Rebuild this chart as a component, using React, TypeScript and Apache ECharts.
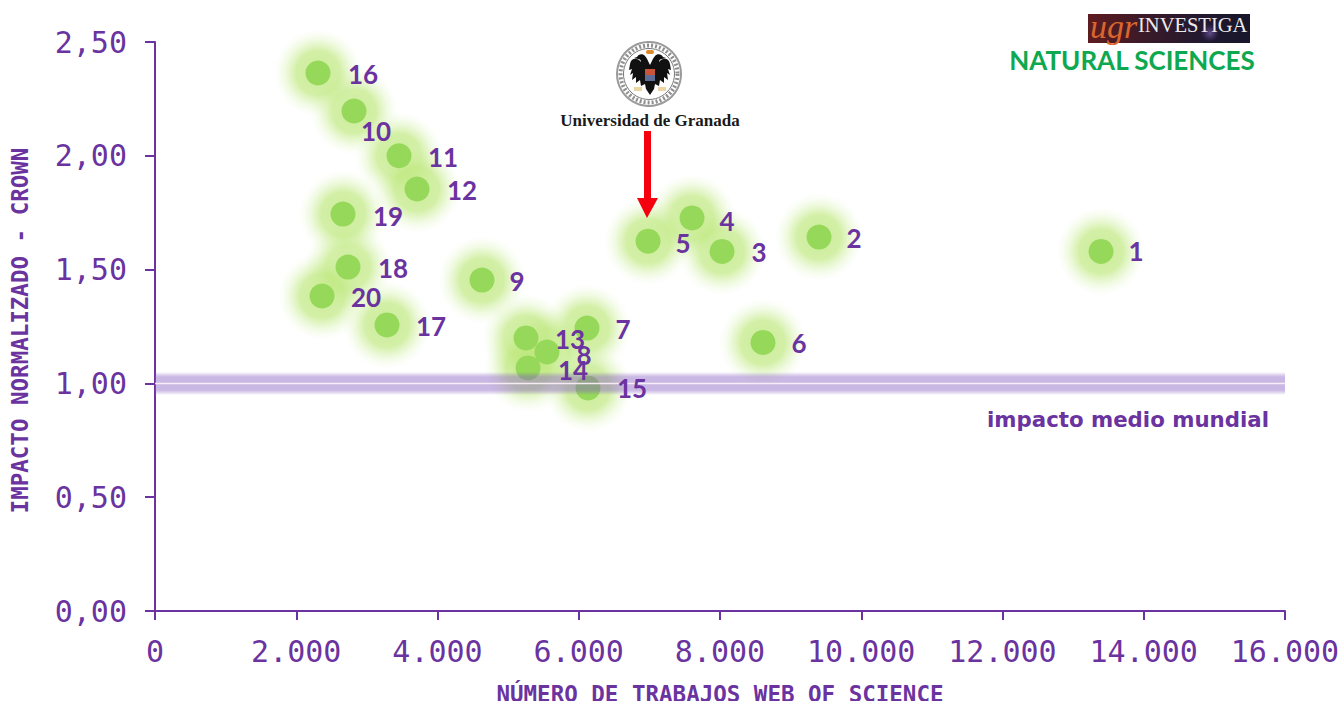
import React, { useEffect, useRef } from "react";
import * as echarts from "echarts";

const ids = ["1","2","3","4","5","6","7","8","9","10","11","12","13","14","15","16","17","18","19","20"];
const trabajos = [13395,9402,8029,7604,6981,8609,6117,5550,4630,2818,3455,3710,5253,5282,6131,2308,3285,2733,2662,2365];
const crown = [1.58,1.643,1.58,1.727,1.625,1.18,1.243,1.138,1.454,2.197,2.0,1.854,1.2,1.068,0.98,2.364,1.257,1.511,1.744,1.384];
const xTickLabels = ["0","2.000","4.000","6.000","8.000","10.000","12.000","14.000","16.000"];
const yTickLabels = ["0,00","0,50","1,00","1,50","2,00","2,50"];
const referenceX = [0,16000];
const referenceY = [1,1];

const PURPLE = "#6A33A0";
const MONO = '"DejaVu Sans Mono", monospace';

// hand placement of each number label relative to its point: [dx, dy]
const labelOffset: Record<string, number[]> = {
  "1":[35,0],"2":[35,1],"3":[37,1],"4":[35,3],"5":[35,2],"6":[36,1],"7":[36,1],"8":[37,3],"9":[35,1],
  "10":[22,20],"11":[44,1],"12":[45,1],"13":[44,1],"14":[45,2],"15":[44,0],"16":[45,1],"17":[44,1],"18":[45,1],"19":[45,2],"20":[44,1],
};

const EAGLE =
  "M0,-8 C-2,-12 -3,-15 -5,-17 C-7,-20 -12,-19 -13,-16 L-16,-15 L-12,-14 C-10,-14 -9,-13 -9,-11 C-13,-16 -19,-15 -20,-9 L-21,-3 L-18,-4 L-20,2 L-17,0 L-18,7 L-14,4 L-14,10 L-10,7 L-9,13 L-5,11 L-4,16 L0,22 L4,16 L5,11 L9,13 L10,7 L14,10 L14,4 L18,7 L17,0 L20,2 L18,-4 L21,-3 L20,-9 C19,-15 13,-16 9,-11 C9,-13 10,-14 12,-14 L16,-15 L13,-16 C12,-19 7,-20 5,-17 C3,-15 2,-12 0,-8 Z";
echarts.graphic.registerShape("ugrEagle", (echarts.graphic as any).extendPath(EAGLE, {}));

export default function App() {
  const ref = useRef<HTMLDivElement>(null);
  useEffect(() => {
    document.body.style.margin = "0";
    const chart = echarts.init(ref.current!, undefined, { renderer: "svg" });
    const points = trabajos.map((x, i) => [x, crown[i]]);
    const cx = 649, cy = 74;
    chart.setOption({
      animation: false,
      backgroundColor: "#fff",
      grid: { left: 155, right: 56, top: 42, bottom: 90, containLabel: false, outerBoundsMode: "none" },
      xAxis: {
        type: "value", min: 0, max: 16000, interval: 2000,
        splitLine: { show: false },
        axisLine: { show: true, lineStyle: { color: PURPLE, width: 2 } },
        axisTick: { show: true, length: 9, lineStyle: { color: PURPLE, width: 2 } },
        axisLabel: {
          color: PURPLE, fontFamily: MONO, fontSize: 30, margin: 25, hideOverlap: false,
          showMinLabel: true, showMaxLabel: true,
          formatter: (_: number, i: number) => xTickLabels[i],
        },
        name: "NÚMERO DE TRABAJOS WEB OF SCIENCE",
        nameLocation: "middle", nameGap: 71,
        nameTextStyle: { color: PURPLE, fontFamily: MONO, fontWeight: "bold", fontSize: 22.5 },
      },
      yAxis: {
        type: "value", min: 0, max: 2.5, interval: 0.5,
        splitLine: { show: false },
        axisLine: { show: true, lineStyle: { color: PURPLE, width: 2 } },
        axisTick: { show: true, length: 10, lineStyle: { color: PURPLE, width: 2 } },
        axisLabel: {
          color: PURPLE, fontFamily: MONO, fontSize: 30, margin: 28,
          showMinLabel: true, showMaxLabel: true,
          formatter: (_: number, i: number) => yTickLabels[i],
        },
        name: "IMPACTO NORMALIZADO - CROWN",
        nameLocation: "middle", nameGap: 124,
        nameTextStyle: { color: PURPLE, fontFamily: MONO, fontWeight: "bold", fontSize: 22.5, padding: [0, 8, 0, 0] },
      },
      series: [
        {
          type: "scatter", z: 1, silent: true, symbolSize: 88, data: points,
          itemStyle: {
            opacity: 1,
            color: new echarts.graphic.RadialGradient(0.5, 0.5, 0.5, [
              { offset: 0, color: "rgba(190,232,125,0.78)" },
              { offset: 0.5, color: "rgba(190,232,125,0.68)" },
              { offset: 0.78, color: "rgba(205,238,155,0.25)" },
              { offset: 1, color: "rgba(225,246,200,0)" },
            ]),
          },
        },
        {
          type: "scatter", z: 2, silent: true, symbolSize: 25, data: points,
          itemStyle: { color: "#96D95A", opacity: 1 },
        },
        ...[
          [22, "rgba(140,95,200,0.1)"],
          [20, "rgba(140,95,200,0.1)"],
          [18, "rgba(140,95,200,0.11)"],
          [16, "rgba(140,95,200,0.11)"],
          [14, "rgba(140,95,200,0.12)"],
          [1.5, "rgba(250,238,246,0.95)"],
        ].map(([width, color]) => ({
          type: "line", z: 3, silent: true, symbol: "none",
          data: referenceX.map((x, i) => [x, referenceY[i]]),
          lineStyle: { width, color, cap: "butt" },
        })),
        {
          type: "scatter", z: 5, silent: true, symbolSize: 1,
          itemStyle: { color: "transparent", opacity: 1 },
          data: points.map((p, i) => ({
            value: p,
            name: ids[i],
            label: {
              show: true, position: "inside", formatter: ids[i],
              offset: labelOffset[ids[i]],
              color: PURPLE, fontFamily: "Lato", fontWeight: "bold", fontSize: 26,
            },
          })),
        },
      ],
      graphic: {
        elements: [
          // UGR crest
          { type: "circle", z: 10, shape: { cx, cy, r: 32 }, style: { fill: "#fff", stroke: "#9a9a9a", lineWidth: 2 } },
          { type: "circle", z: 10, shape: { cx, cy, r: 28.5 }, style: { fill: "none", stroke: "#8f8f8f", lineWidth: 4, lineDash: [2, 2] } },
          { type: "circle", z: 10, shape: { cx, cy, r: 25.5 }, style: { fill: "#fff", stroke: "#777", lineWidth: 1 } },
          { type: "ugrEagle", z: 11, x: cx + 1, y: cy - 1, style: { fill: "#111" } },
          { type: "rect", z: 12, shape: { x: cx - 4, y: cy - 5, width: 10, height: 6 }, style: { fill: "#c8553a" } },
          { type: "rect", z: 12, shape: { x: cx - 4, y: cy + 1, width: 10, height: 6 }, style: { fill: "#5d6d96" } },
          { type: "rect", z: 12, shape: { x: cx - 3, y: cy - 24, width: 8, height: 4, r: 2 }, style: { fill: "#e08a2a" } },
          { type: "rect", z: 12, shape: { x: cx - 15, y: cy + 13, width: 8, height: 4 }, style: { fill: "#ecd6a4" } },
          { type: "rect", z: 12, shape: { x: cx + 9, y: cy + 13, width: 8, height: 4 }, style: { fill: "#ecd6a4" } },
          { type: "text", z: 12, style: { text: "Universidad de Granada", x: 650, y: 120, fill: "#1a1a1a", font: 'bold 17px "Liberation Serif"', textAlign: "center", textVerticalAlign: "middle" } },
          // red arrow
          { type: "polygon", z: 12, shape: { points: [[644, 131], [651, 131], [651, 198], [658, 198], [647, 218], [637, 198], [644, 198]] }, style: { fill: "#F5000F" } },
          // banner
          {
            type: "rect", z: 10, shape: { x: 1088, y: 14, width: 162, height: 29 },
            style: { fill: new echarts.graphic.LinearGradient(0, 0, 1, 0, [
              { offset: 0, color: "#5d1c20" }, { offset: 0.35, color: "#3a1a28" }, { offset: 0.75, color: "#1f1830" }, { offset: 1, color: "#17162a" },
            ]) },
          },
          {
            type: "circle", z: 11, shape: { cx: 1210, cy: 33, r: 9 },
            style: { fill: new echarts.graphic.RadialGradient(0.5, 0.5, 0.5, [
              { offset: 0, color: "rgba(150,115,205,0.6)" }, { offset: 1, color: "rgba(110,80,170,0)" },
            ]) },
          },
          { type: "text", z: 12, style: { text: "ugr", x: 1090, y: 26, fill: "#d9662c", font: 'italic 34px "Liberation Serif"', textAlign: "left", textVerticalAlign: "middle" } },
          { type: "text", z: 12, style: { text: "INVESTIGA", x: 1138, y: 25, fill: "#eeeaea", font: '20.5px "Liberation Serif"', textAlign: "left", textVerticalAlign: "middle" } },
          { type: "text", z: 12, style: { text: "NATURAL SCIENCES", x: 1132, y: 60, fill: "#0DA850", font: 'bold 26px Lato', textAlign: "center", textVerticalAlign: "middle" } },
          { type: "text", z: 12, style: { text: "impacto medio mundial", x: 1128, y: 419, fill: PURPLE, font: 'bold 21.3px "DejaVu Sans"', textAlign: "center", textVerticalAlign: "middle" } },
        ],
      },
    });
    return () => chart.dispose();
  }, []);
  return <div ref={ref} style={{ width: 1341, height: 701 }} />;
}
